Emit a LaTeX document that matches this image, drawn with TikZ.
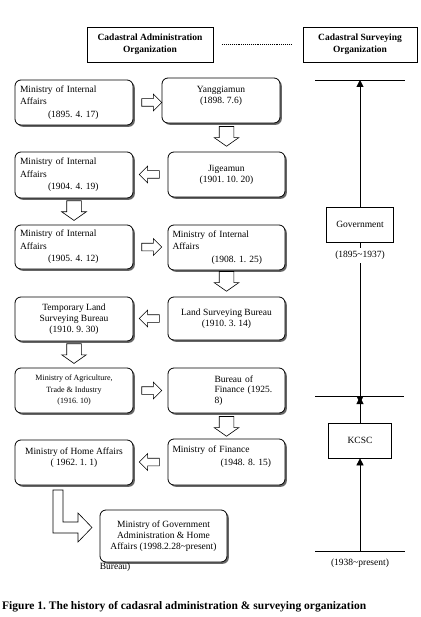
\documentclass[tikz,border=0pt]{standalone}
\usepackage{fontspec}
\setmainfont{Liberation Serif}
\usepackage{tikz}
\usetikzlibrary{
  arrows.meta,
  shapes.arrows,
  positioning,
  shadows
}
\frenchspacing

\begin{document}
\begin{tikzpicture}[x=1pt,y=-1pt,
      office/.style={
         rectangle,
         rounded corners=6pt,
         draw=black,
         line width=0.8pt,
         fill=white,
         drop shadow={shadow xshift=1.8pt,shadow yshift=-1.8pt,fill=black!60,opacity=1},
         minimum width=118pt,
         minimum height=45pt,
         inner sep=0pt,
         font=\fontsize{9.5}{11}\selectfont,
         align=center
      },
      officeleft/.style={
         office,
         text width=108pt,
         align=left,
         font=\fontsize{9.5}{12.5}\selectfont
      },
      header/.style={
         rectangle,
         draw=black,
         line width=0.6pt,
         minimum height=35pt,
         inner sep=0pt,
         font=\bfseries\fontsize{9.5}{12}\selectfont,
         align=center
      },
      era/.style={
         rectangle,
         draw=black,
         line width=0.6pt,
         minimum height=35pt,
         inner sep=0pt,
         font=\fontsize{9.5}{11}\selectfont
      },
      date/.style={
         inner sep=3pt,
         font=\fontsize{9.5}{11}\selectfont
      },
      rarrow/.style={
         single arrow,
         draw=black,
         line width=0.6pt,
         fill=white,
         minimum height=20pt,
         inner sep=3.5pt,
         single arrow head extend=4.5pt,
         single arrow head indent=0pt
      },
      larrow/.style={rarrow,shape border rotate=180},
      darrow/.style={
         rarrow,
         shape border rotate=270,
         minimum height=18pt,
         inner sep=7pt,
         single arrow head extend=5pt,
         single arrow tip angle=110
      },
      tri/.style={-{Triangle[length=7pt,width=7pt]}},
      %every node/.style={draw=red}
    ]
    \useasboundingbox (0,0) rectangle (420,617);

    % headers
    \node (hadm) [header, minimum width=126pt] at (150,44.5) {Cadastral Administration\\Organization};
    \node (hsur) [header, minimum width=114pt] at (360,44.5) {Cadastral Surveying\\Organization};
    \draw [densely dotted, line width=0.9pt, shorten <=9pt, shorten >=11pt] (hadm) -- (hsur);

    % administration
    \node (l1) [officeleft] at (74,102.5) {Ministry of Internal\\Affairs\\\hspace*{28pt}(1895. 4. 17)};
    \node (m1) [office] at (221,100.5) {Yanggiamun\\(1898. 7.6)\\\mbox{}};
    \node (m2) [office, minimum width=117pt] at (226.5,174.5) {Jigeamun\\(1901. 10. 20)};
    \node (l2) [officeleft, minimum height=46pt] at (74,175) {Ministry of Internal\\Affairs\\\hspace*{28pt}(1904. 4. 19)};
    \node (l3) [officeleft, minimum height=44pt] at (74,247) {Ministry of Internal\\Affairs\\\hspace*{28pt}(1905. 4. 12)};
    \node (m3) [officeleft, minimum width=117pt] at (226.5,247.5) {Ministry of Internal\\Affairs\\\hspace*{39pt}(1908. 1. 25)};
    \node (m4) [office, minimum width=117pt, minimum height=43pt] at (226.5,318.5) {Land Surveying Bureau\\(1910. 3. 14)};
    \node (l4) [office, minimum height=44pt] at (74,319) {Temporary Land\\Surveying Bureau\\(1910. 9. 30)};
    \node (l5) [office, font=\fontsize{8}{11.5}\selectfont] at (74,390.5) {Ministry of Agriculture,\\Trade \& Industry\\(1916. 10)};
    \node (m5) [officeleft, minimum width=117pt, font=\fontsize{9.5}{10.5}\selectfont] at (226.5,390.5)
      {\hspace*{42pt}Bureau of\\\hspace*{42pt}Finance (1925.\\\hspace*{42pt}8)};
    \node (m6) [officeleft, minimum width=117pt, minimum height=46pt] at (226.5,462) {Ministry of Finance\\\hspace*{48pt}(1948. 8. 15)\\\mbox{}};
    \node (l6) [office] at (74,462.5) {Ministry of Home Affairs\\( 1962. 1. 1)\\\mbox{}};
    \node (m7) [office, minimum width=127pt, minimum height=52pt,
      label={[anchor=north west, inner sep=0pt, font=\fontsize{9.5}{11}\selectfont]south west:Bureau)}]
      at (163.5,536) {Ministry of Government\\Administration \& Home\\Affairs (1998.2.28\textasciitilde present)};

    \node (a1) [rarrow, right=8pt of l1] {};
    \node (a2) [darrow, above=5pt of m2] {};
    \node (a3) [larrow, left=8pt of m2] {};
    \node (a4) [darrow, below=2pt of l2] {};
    \node (a5) [rarrow, right=8pt of l3] {};
    \node (a6) [darrow, above=5pt of m4] {};
    \node (a7) [larrow, left=8pt of m4] {};
    \node (a8) [darrow, below=2pt of l4] {};
    \node (a9) [rarrow, right=8pt of l5] {};
    \node (a10) [darrow, above=2pt of m6] {};
    \node (a11) [larrow, left=8pt of m6] {};
    \draw [line width=0.6pt, fill=white] (53,490) -- (53,533) -- (78,533) -- (78,542)
      -- (92,527.5) -- (78,513) -- (78,522) -- (63,522) -- (63,490) -- cycle;

    % surveying
    \coordinate (gtop) at (360,80);
    \draw ([xshift=-45pt]gtop) -- ([xshift=45pt]gtop);
    \node (gov) [era, minimum width=67pt] at (360,224.5) {Government};
    \draw [tri] (gov) -- (gtop);
    \node (govdate) [date] at (360,255.5) {(1895\textasciitilde 1937)};
    \draw (gov) -- (govdate);
    \coordinate (gsep) at (360,396);
    \draw ([xshift=-45pt]gsep) -- ([xshift=44pt]gsep);
    \draw [tri] (govdate) -- ([yshift=-7pt]gsep);
    \node (kcsc) [era, minimum width=63pt] at (360,440.5) {KCSC};
    \draw [tri] (kcsc) -- ([yshift=-1pt]gsep);
    \coordinate (kbot) at (360,551);
    \draw ([xshift=-45pt]kbot) -- ([xshift=45pt]kbot);
    \draw [tri] (kbot) -- (kcsc);
    \node (kdate) [date] at (360,563) {(1938\textasciitilde present)};

    \node (caption) [anchor=west, inner sep=0pt, font=\bfseries\fontsize{11.5}{13}\selectfont] at (2,607)
      {Figure 1. The history of cadasral administration \& surveying organization};
\end{tikzpicture}
\end{document}
